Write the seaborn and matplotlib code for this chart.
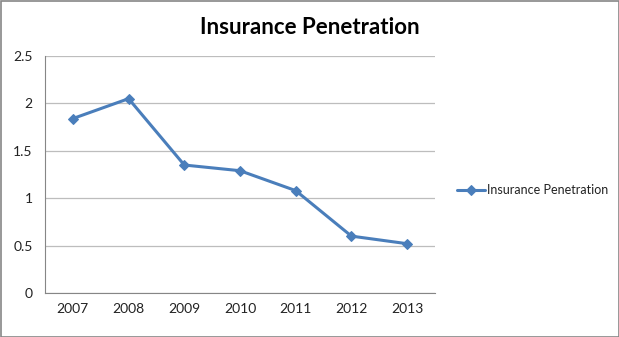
import matplotlib
matplotlib.use("Agg")
import matplotlib.pyplot as plt
import seaborn as sns
import pandas as pd
import numpy as np
from matplotlib.patches import Rectangle

years = ["2007", "2008", "2009", "2010", "2011", "2012", "2013"]
values = [1.84, 2.05, 1.35, 1.29, 1.08, 0.60, 0.52]
series_name = "Insurance Penetration"
yticks = [0, 0.5, 1, 1.5, 2, 2.5]
ytick_labels = ["0", "0.5", "1", "1.5", "2", "2.5"]

sns.set_style("white")
plt.rcParams['font.family'] = ['Lato', 'DejaVu Sans']

df = pd.DataFrame({"pos": np.arange(len(years)), "value": values, "series": series_name})

fig = plt.figure(figsize=(6.19, 3.37), dpi=100)
ax = fig.add_axes([45/619, 44/337, 390/619, 237/337])

color = "#4A7EBB"
sns.lineplot(data=df, x="pos", y="value", hue="series", palette=[color], ax=ax,
             marker="D", markersize=5.5, linewidth=2.2, markeredgecolor=color)

ax.set_xlim(-0.5, len(years) - 0.5)
ax.set_ylim(0, 2.5)
ax.set_yticks(yticks)
ax.set_yticklabels(ytick_labels)
ax.set_xticks(np.arange(len(years)))
ax.set_xticklabels(years)
ax.set_xticks(np.arange(-0.5, len(years)), minor=True)
ax.tick_params(axis="x", which="major", length=0, pad=7, labelsize=10, colors="#222222")
ax.tick_params(axis="x", which="minor", length=5, color="#868686", width=0.8)
ax.tick_params(axis="y", length=5, color="#868686", width=0.8, labelsize=10, colors="#222222", pad=4)
ax.yaxis.grid(True, color="#BDBDBD", linewidth=0.9)
ax.set_axisbelow(True)
for s in ["top", "right"]:
    ax.spines[s].set_visible(False)
for s in ["left", "bottom"]:
    ax.spines[s].set_color("#868686")
    ax.spines[s].set_linewidth(0.8)
ax.set_xlabel("")
ax.set_ylabel("")

leg = ax.legend(loc="center left", bbox_to_anchor=(446/619, 1 - 190/337), bbox_transform=fig.transFigure,
                frameon=False, fontsize=9, handlelength=2.2, handletextpad=0.15)
for t in leg.get_texts():
    t.set_color("#222222")

fig.text(310/619, 1 - 27/337, "Insurance Penetration", ha="center", va="center",
         fontsize=16, fontweight="bold", color="#000000")

fig.patches.append(Rectangle((0.5/619, 0.5/337), 1 - 1/619, 1 - 1/337, transform=fig.transFigure,
                             fill=False, edgecolor="#868686", linewidth=1.2))

fig.savefig("out.png", dpi=100)
